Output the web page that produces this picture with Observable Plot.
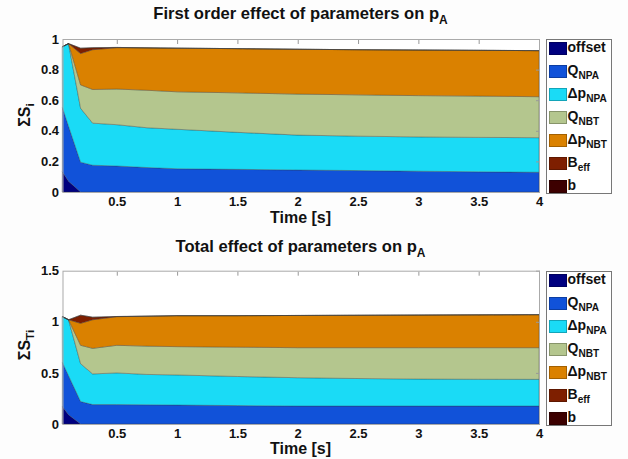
<!DOCTYPE html>
<html>
<head>
<meta charset="utf-8">
<script src="https://cdn.jsdelivr.net/npm/d3@7"></script>
<script src="https://cdn.jsdelivr.net/npm/@observablehq/plot@0.6"></script>
<style>
  body { margin: 0; background: #fdfdfd; font-family: "Liberation Sans", Arial, Helvetica, sans-serif; }
  #wrap { position: relative; width: 628px; height: 459px; overflow: hidden; }
  .panel { position: absolute; left: 0; }
  .title { position: absolute; left: 0; width: 601px; text-align: center; font-weight: bold; font-size: 16.6px; color: #111; white-space: nowrap; line-height: 18px; }
  .title sub, .ylab sub, .leg sub { font-size: 0.72em; vertical-align: -0.38em; line-height: 0; }
  .ylab { position: absolute; font-weight: bold; font-size: 16px; color: #111; white-space: nowrap; transform: translate(-50%, -50%) rotate(-90deg); }
  .xlab { position: absolute; left: 0; width: 601px; text-align: center; font-weight: bold; font-size: 16px; line-height: 15px; color: #111; }
  .legbox { position: absolute; border: 1px solid #777; background: #fff; box-sizing: border-box; }
  .leg { position: absolute; font-weight: bold; font-size: 14px; color: #111; white-space: nowrap; line-height: 14px; }
  .sw { position: absolute; width: 18px; height: 13px; box-sizing: border-box; border: 1px solid rgba(0,0,0,0.25); }
</style>
</head>
<body>
<div id="wrap"></div>
<script>
// ---- data ----
const times = [0.05, 0.1, 0.2, 0.3, 0.5, 0.75, 1, 1.5, 2, 2.5, 3, 3.5, 4];
const seriesNames = ["offset", "Q_NPA", "Δp_NPA", "Q_NBT", "Δp_NBT", "B_eff", "b"];
const seriesMain = ["offset", "Q", "Δp", "Q", "Δp", "B", "b"];
const seriesSub = ["", "NPA", "NPA", "NBT", "NBT", "eff", ""];
const seriesColors = ["#00007f", "#1152d9", "#1adbf6", "#b4c68e", "#da8100", "#7e1f00", "#3d0000"];

// First order indices S_i (stacked contributions)
const first_offset = [0.13, 0.07, 0, 0, 0, 0, 0, 0, 0, 0, 0, 0, 0];
const first_QNPA   = [0.42, 0.36, 0.195, 0.175, 0.17, 0.16, 0.152, 0.148, 0.144, 0.14, 0.136, 0.132, 0.129];
const first_dpNPA  = [0.40, 0.54, 0.352, 0.275, 0.27, 0.26, 0.258, 0.242, 0.228, 0.225, 0.224, 0.225, 0.226];
const first_QNBT   = [0, 0, 0.153, 0.22, 0.233, 0.245, 0.245, 0.258, 0.268, 0.27, 0.27, 0.27, 0.268];
const first_dpNBT  = [0, 0, 0.205, 0.26, 0.27, 0.277, 0.285, 0.289, 0.293, 0.295, 0.298, 0.299, 0.301];
const first_Beff   = [0, 0, 0.035, 0.013, 0.002, 0, 0, 0, 0, 0, 0, 0, 0];
const first_b      = [0, 0, 0, 0, 0, 0, 0, 0, 0, 0, 0, 0, 0];

// Total effect indices S_Ti (stacked contributions)
const total_offset = [0.17, 0.09, 0, 0, 0, 0, 0, 0, 0, 0, 0, 0, 0];
const total_QNPA   = [0.43, 0.383, 0.22, 0.19, 0.19, 0.188, 0.186, 0.18, 0.176, 0.176, 0.176, 0.176, 0.176];
const total_dpNPA  = [0.45, 0.547, 0.37, 0.30, 0.31, 0.297, 0.294, 0.285, 0.277, 0.269, 0.264, 0.262, 0.261];
const total_QNBT   = [0, 0, 0.18, 0.25, 0.27, 0.277, 0.277, 0.287, 0.294, 0.302, 0.307, 0.309, 0.31];
const total_dpNBT  = [0, 0, 0.215, 0.28, 0.28, 0.293, 0.303, 0.308, 0.315, 0.317, 0.319, 0.321, 0.323];
const total_Beff   = [0, 0, 0.08, 0.025, 0.002, 0, 0, 0, 0, 0, 0, 0, 0];
const total_b      = [0, 0, 0, 0, 0, 0, 0, 0, 0, 0, 0, 0, 0];

const xTicks = [0.5, 1, 1.5, 2, 2.5, 3, 3.5, 4];
const yTicksFirst = [0, 0.2, 0.4, 0.6, 0.8, 1];
const yTicksTotal = [0, 0.5, 1, 1.5];

// ---- build ----
function rowsOf(seriesArrays) {
  const rows = [];
  seriesArrays.forEach((vals, i) => {
    vals.forEach((v, j) => rows.push({ t: times[j], v, s: seriesNames[i] }));
  });
  return rows;
}
const firstRows = rowsOf([first_offset, first_QNPA, first_dpNPA, first_QNBT, first_dpNBT, first_Beff, first_b]);
const totalRows = rowsOf([total_offset, total_QNPA, total_dpNPA, total_QNBT, total_dpNBT, total_Beff, total_b]);

const fmt = d => String(d);

function panel(rows, yDomain, yTicks, h, mTop, mBottom) {
  return Plot.plot({
    width: 628, height: h,
    marginLeft: 62.5, marginRight: 89, marginTop: mTop, marginBottom: mBottom,
    x: { domain: [0.05, 4] },
    y: { domain: yDomain },
    color: { domain: seriesNames, range: seriesColors },
    style: { background: "transparent", fontFamily: "'Liberation Sans', Arial, sans-serif", fontSize: "13px", fontWeight: "bold", color: "#111" },
    marks: [
      Plot.frame({ fill: "white", stroke: null }),
      Plot.areaY(rows, { x: "t", y: "v", z: "s", fill: "s", order: seriesNames, stroke: "#333", strokeWidth: 0.6, strokeOpacity: 0.55 }),
      Plot.axisX({ anchor: "top", ticks: xTicks, tickSize: -4, tickFormat: () => "", label: null, stroke: "#999" }),
      Plot.axisY({ anchor: "right", ticks: yTicks, tickSize: -4, tickFormat: () => "", label: null, stroke: "#999" }),
      Plot.frame({ stroke: "#aaa" }),
      Plot.axisX({ ticks: xTicks, tickSize: 0, tickPadding: 4, tickFormat: fmt, label: null }),
      Plot.axisY({ ticks: yTicks, tickSize: 0, tickPadding: 4, tickFormat: fmt, label: null })
    ]
  });
}

const wrap = document.getElementById("wrap");
function add(html, cls, style) {
  const d = document.createElement("div");
  d.className = cls;
  d.innerHTML = html;
  Object.assign(d.style, style);
  wrap.appendChild(d);
  return d;
}

const p1 = panel(firstRows, [0, 1], yTicksFirst, 229, 39, 37);
const p2 = panel(totalRows, [0, 1.5], yTicksTotal, 230, 41.7, 35);
const d1 = add("", "panel", { top: "0px" }); d1.appendChild(p1);
const d2 = add("", "panel", { top: "229px" }); d2.appendChild(p2);

add("First order effect of parameters on p<sub>A</sub>", "title", { top: "5px" });
add("Total effect of parameters on p<sub>A</sub>", "title", { top: "238px" });
add("ΣS<sub>i</sub>", "ylab", { left: "25px", top: "115px" });
add("ΣS<sub>Ti</sub>", "ylab", { left: "25px", top: "345px" });
add("Time [s]", "xlab", { top: "210px" });
add("Time [s]", "xlab", { top: "441px" });

function legend(top) {
  add("", "legbox", { left: "545.5px", top: (top) + "px", width: "66px", height: "155px" });
  seriesNames.forEach((name, i) => {
    const cy = top + 9 + i * 23;
    add("", "sw", { left: "548.5px", top: (cy - 6.5) + "px", background: seriesColors[i] });
    const lab = seriesSub[i] ? `${seriesMain[i]}<sub>${seriesSub[i]}</sub>` : seriesMain[i];
    add(lab, "leg", { left: "567.5px", top: (cy - 8) + "px" });
  });
}
legend(39.3);
legend(271);
</script>
</body>
</html>
